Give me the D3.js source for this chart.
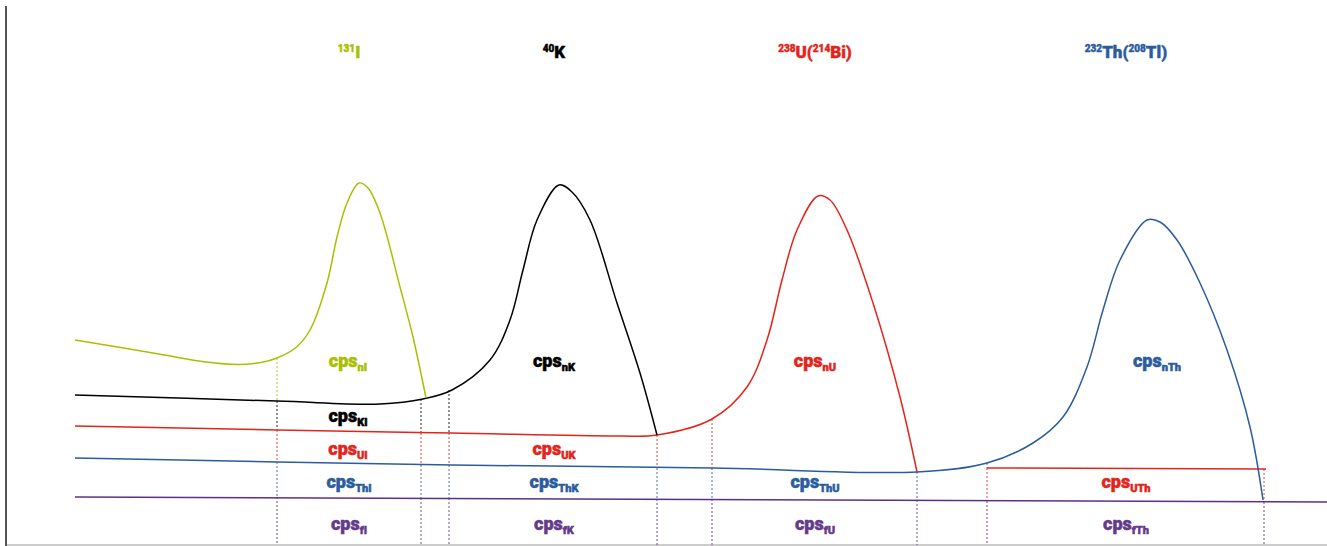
<!DOCTYPE html>
<html><head><meta charset="utf-8">
<script src="https://cdn.jsdelivr.net/npm/d3@7"></script>
<style>html,body{margin:0;padding:0;background:#fff;}svg{display:block;}</style>
</head><body>
<svg id="chart" width="1327" height="546"></svg>
<script>
// ---- data (channel, count-rate in arbitrary units) ----
const iodineCurve = [[69,41],[150,38.3],[200,36.6],[232,36.1],[255,36.5],[271,37.4],[290,39.5],[304,43],[321,52.4],[331,61.6],[341,68.4],[353,72.4],[362,71.4],[374,66.4],[394,51.6],[407,41.6],[420,29.4]];
const potassiumCurve = [[69,30],[271,28.8],[374,28.2],[417,29.2],[446,31],[484,37],[504,45],[517,55],[531,65],[553,72],[566,70.6],[584,65],[611,48.4],[634,34.4],[651,22]];
const uraniumCurve = [[69,23.8],[271,23],[446,22.4],[614,21.8],[651,22],[706,25.2],[741,31.6],[761,41],[776,53],[791,63],[812,69.8],[824,69],[841,63],[867,48.4],[894,29.6],[911,14.6]];
const thoriumCurve = [[69,17.4],[271,16.6],[446,16],[707,15.4],[911,14.6],[981,16.4],[1027,20.4],[1057,25.6],[1081,35.6],[1097,47],[1114,57],[1141,65],[1154,64.6],[1171,61],[1194,52.4],[1221,39],[1244,23.6],[1257,9]];
const backgroundLine = [[69,9.6],[1321,8.6]];
const uThBox = [[981,8.8],[981,15.4],[1260,15.2],[1260,8.6]];

// dotted window boundaries: channel, segments [from, to, series]
const windowMarks = [
  {ch:271, segs:[[37.4,28.8,"I"],[28.8,23,"K"],[23,16.6,"U"],[16.6,9.6,"Th"],[9.6,0,"f"]]},
  {ch:415, segs:[[29.2,22.4,"K"],[22.4,16,"U"],[16,9.4,"Th"],[9.4,0,"f"]]},
  {ch:443, segs:[[31,22.4,"K"],[22.4,16,"U"],[16,9.4,"Th"],[9.4,0,"f"]]},
  {ch:651, segs:[[22,15.4,"U"],[15.4,9.2,"Th"],[9.2,0,"f"]]},
  {ch:706, segs:[[25.2,15.4,"U"],[15.4,9.2,"Th"],[9.2,0,"f"]]},
  {ch:911, segs:[[14.6,9,"Th"],[9,0,"f"]]},
  {ch:981, segs:[[16.4,15.4,"Th"],[15.4,8.8,"U"],[8.8,0,"f"]]},
  {ch:1258, segs:[[15.2,8.6,"U"],[8.6,0,"f"]]}
];

const cpsLabels = [
  {sub:"nI", s:"I", ch:342, v:35.6},{sub:"KI", s:"K", ch:342, v:24.6},{sub:"UI", s:"U", ch:342, v:18},{sub:"ThI", s:"Th", ch:343, v:11.4},{sub:"fI", s:"f", ch:343, v:3},
  {sub:"nK", s:"K", ch:548, v:35.6},{sub:"UK", s:"U", ch:548, v:18},{sub:"ThK", s:"Th", ch:548, v:11.4},{sub:"fK", s:"f", ch:548, v:3},
  {sub:"nU", s:"U", ch:809, v:35.6},{sub:"ThU", s:"Th", ch:809, v:11.4},{sub:"fU", s:"f", ch:809, v:3},
  {sub:"nTh", s:"Th", ch:1151, v:35.6},{sub:"UTh", s:"U", ch:1120, v:11.4},{sub:"fTh", s:"f", ch:1120, v:3}
];

const titles = [
  {parts:[["131","sup"],["I",""]], s:"I", ch:343},
  {parts:[["40","sup"],["K",""]], s:"K", ch:548},
  {parts:[["238","sup"],["U(",""],["214","sup"],["Bi)",""]], s:"U", ch:809},
  {parts:[["232","sup"],["Th(",""],["208","sup"],["Tl)",""]], s:"Th", ch:1120}
];
const titleLevel = 97.4;

const colors = {I:"#a9c000", K:"#000000", U:"#e3241b", Th:"#2b5c9e", f:"#5e2f86"};
const textColors = {I:"#a8c000", K:"#000000", U:"#e3241b", Th:"#2b5c9e", f:"#653a8c"};

// ---- drawing ----
const svg = d3.select("#chart");
const x = d3.scaleLinear().domain([0,1321]).range([6,1327]);
const y = d3.scaleLinear().domain([0,108]).range([545,5]);

// axes frame
svg.append("line").attr("x1",6).attr("x2",1327).attr("y1",y(0)).attr("y2",y(0))
  .attr("stroke","#bbbbbb").attr("stroke-width",1.5);
svg.append("line").attr("x1",6).attr("x2",6).attr("y1",6).attr("y2",546)
  .attr("stroke","#555555").attr("stroke-width",2);

// dotted marks
windowMarks.forEach(m => {
  m.segs.forEach(s => {
    svg.append("line").attr("x1",x(m.ch)).attr("x2",x(m.ch)).attr("y1",y(s[0])).attr("y2",y(s[1]))
      .attr("stroke",colors[s[2]]).attr("stroke-width",1).attr("stroke-dasharray","2,2").attr("opacity",0.85);
  });
});

const line = d3.line().x(d=>x(d[0])).y(d=>y(d[1])).curve(d3.curveCatmullRom.alpha(0.5));
const straight = d3.line().x(d=>x(d[0])).y(d=>y(d[1]));

svg.append("path").attr("d",straight(backgroundLine)).attr("fill","none").attr("stroke",colors.f).attr("stroke-width",1.6);
svg.append("path").attr("d",straight(uThBox.slice(1,3))).attr("fill","none").attr("stroke",colors.U).attr("stroke-width",1.5);
[[thoriumCurve,"Th"],[uraniumCurve,"U"],[potassiumCurve,"K"],[iodineCurve,"I"]].forEach(([c,k]) => {
  svg.append("path").attr("d",line(c)).attr("fill","none").attr("stroke",colors[k]).attr("stroke-width",1.5);
});

const font = "Roboto, 'Open Sans', sans-serif";
cpsLabels.forEach(l => {
  const t = svg.append("text").attr("x",x(l.ch)).attr("y",y(l.v)).attr("text-anchor","middle")
    .attr("font-family",font).attr("font-weight",900).attr("fill",textColors[l.s])
    .attr("stroke",textColors[l.s]).attr("stroke-width",0.5);
  t.append("tspan").attr("font-size",18).text("cps");
  t.append("tspan").attr("font-size",11).attr("dy",4).text(l.sub);
});

titles.forEach(ti => {
  const t = svg.append("text").attr("x",x(ti.ch)).attr("y",y(titleLevel)).attr("text-anchor","middle")
    .attr("font-family",font).attr("font-weight",900).attr("fill",textColors[ti.s])
    .attr("stroke",textColors[ti.s]).attr("stroke-width",0.4);
  let raised = false;
  ti.parts.forEach(p => {
    const sp = t.append("tspan").text(p[0]);
    if (p[1]==="sup") { sp.attr("font-size",10).attr("dy", raised? 0 : -6); raised = true; }
    else { sp.attr("font-size",17).attr("dy", raised? 6 : 0); raised = false; }
  });
});
</script>
</body></html>
